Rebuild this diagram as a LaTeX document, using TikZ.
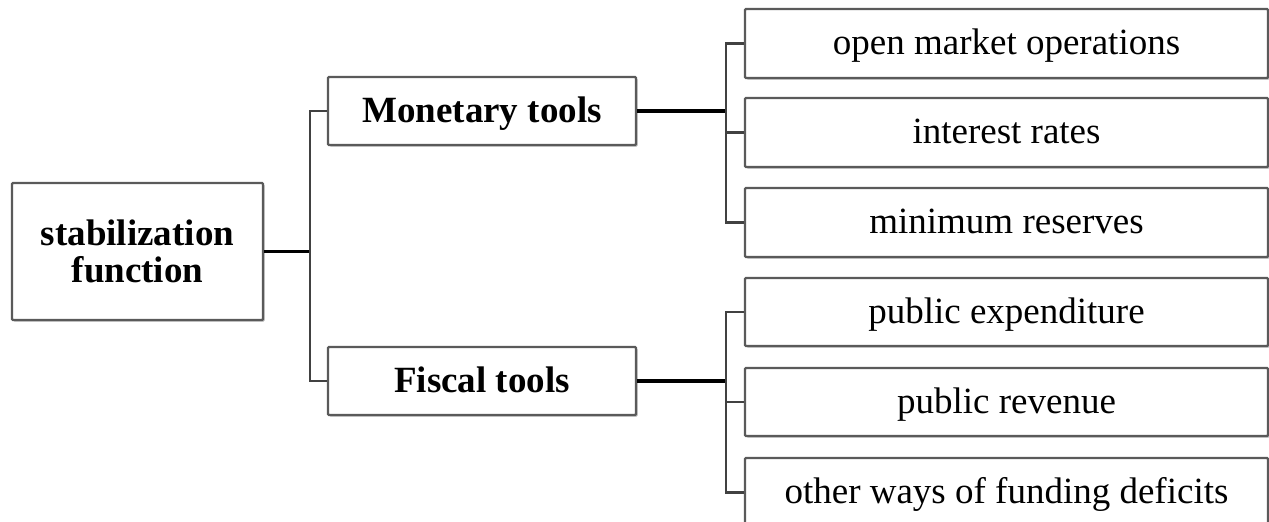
\documentclass[tikz,border=0pt]{standalone}
\usepackage{fontspec}
\setmainfont{Liberation Serif}
\usetikzlibrary{shadows}
\definecolor{boxline}{RGB}{90,90,90}
\definecolor{branchline}{RGB}{65,65,65}
\begin{document}
\begin{tikzpicture}[x=1pt,y=-1pt,
  box/.style={draw=boxline, line width=2.4pt, fill=white, rounded corners=1pt,
    inner sep=0pt, align=center,
    font=\fontsize{37}{37}\selectfont,
    drop shadow={shadow xshift=1.5pt, shadow yshift=-1.5pt, opacity=0.3, fill=black}},
  oneline/.style={text height=27pt, text depth=5pt},
  bbox/.style={box, font=\fontsize{37}{37}\selectfont\bfseries},
  mainline/.style={draw=black, line width=3.4pt},
  branch/.style={draw=branchline, line width=2.6pt}]
\useasboundingbox (0,0) rectangle (1269,522);
% left column
\node[bbox, minimum width=251pt, minimum height=137pt] (stab) at (137.5,251.5) {stabilization\\function};
% middle column
\node[bbox, oneline, minimum width=308pt, minimum height=68pt] (mon) at (482,111) {Monetary tools};
\node[bbox, oneline, minimum width=308pt, minimum height=68pt] (fis) at (482,381) {Fiscal tools};
% right column
\node[box, oneline, minimum width=523pt, minimum height=69pt] (r1) at (1006.5,43.5) {open market operations};
\node[box, oneline, minimum width=523pt, minimum height=69pt] (r2) at (1006.5,132.5) {interest rates};
\node[box, oneline, minimum width=523pt, minimum height=69pt] (r3) at (1006.5,222.5) {minimum reserves};
\node[box, oneline, minimum width=523pt, minimum height=68pt] (r4) at (1006.5,312) {public expenditure};
\node[box, oneline, minimum width=523pt, minimum height=68pt] (r5) at (1006.5,402) {public revenue};
\node[box, oneline, minimum width=523pt, minimum height=69pt] (r6) at (1006.5,492.5) {other ways of funding deficits};
% junctions
\coordinate (j1) at (310,251.5);
\coordinate (j2) at (726,111);
\coordinate (j3) at (726,381);
% connectors
\draw[mainline] (stab.east) -- (j1);
\draw[branch] (mon.west) -| (j1) |- (fis.west);
\draw[mainline] (mon.east) -- (j2);
\draw[branch] (r1.west) -| (j2) |- (r3.west);
\draw[branch] (j2 |- r2.west) -- (r2.west);
\draw[mainline] (fis.east) -- (j3);
\draw[branch] (r4.west) -| (j3) |- (r6.west);
\draw[branch] (j3 |- r5.west) -- (r5.west);
\end{tikzpicture}
\end{document}
